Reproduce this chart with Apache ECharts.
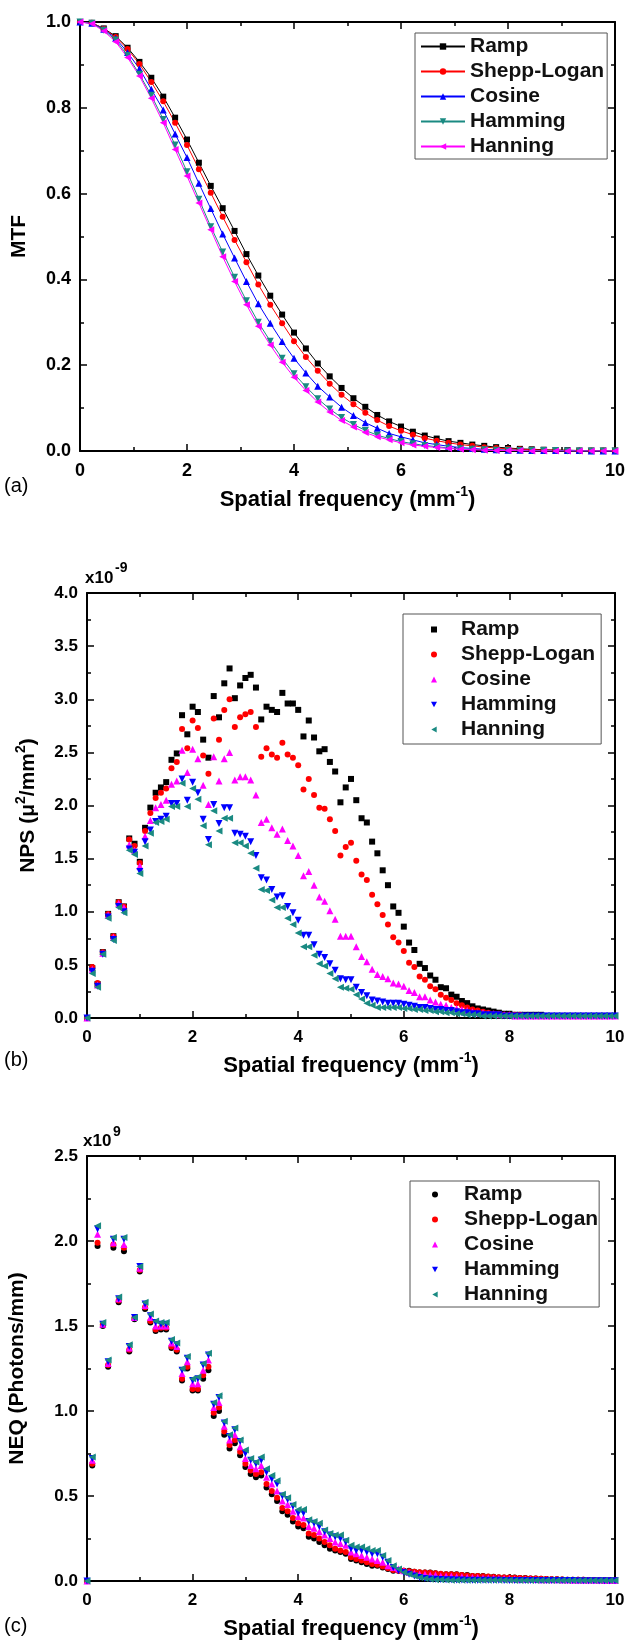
<!DOCTYPE html>
<html><head><meta charset="utf-8">
<script src="https://cdn.jsdelivr.net/npm/echarts@6/dist/echarts.min.js"></script>
<style>
html,body{margin:0;padding:0;background:#fff;width:627px;height:1647px;overflow:hidden}
.p{position:absolute;left:0;width:627px}
</style></head><body>
<div id="ca" class="p" style="top:0;height:530px"></div>
<div id="cb" class="p" style="top:530px;height:560px"></div>
<div id="cc" class="p" style="top:1090px;height:557px"></div>
<script>
// ---------- DATA ----------
const filterNames = ['Ramp', 'Shepp-Logan', 'Cosine', 'Hamming', 'Hanning'];
const xTicks = [0, 2, 4, 6, 8, 10];

// (a) MTF, sampled every 2/9 mm^-1
const freqA = [0, 0.222, 0.444, 0.667, 0.889, 1.111, 1.333, 1.556, 1.778, 2.000, 2.222, 2.444, 2.667, 2.889, 3.111, 3.333, 3.556, 3.778, 4.000, 4.222, 4.444, 4.667, 4.889, 5.111, 5.333, 5.556, 5.778, 6.000, 6.222, 6.444, 6.667, 6.889, 7.111, 7.333, 7.556, 7.778, 8.000, 8.222, 8.444, 8.667, 8.889, 9.111, 9.333, 9.556, 9.778, 10.000];
const mtfRamp = [1.000, 0.998, 0.985, 0.967, 0.940, 0.907, 0.870, 0.826, 0.777, 0.726, 0.672, 0.618, 0.566, 0.513, 0.459, 0.409, 0.362, 0.318, 0.276, 0.239, 0.204, 0.174, 0.147, 0.123, 0.103, 0.084, 0.069, 0.057, 0.045, 0.036, 0.029, 0.023, 0.019, 0.015, 0.012, 0.009, 0.007, 0.005, 0.004, 0.003, 0.002, 0.002, 0.001, 0.001, 0.001, 0.001];
const mtfShepp = [1.000, 0.998, 0.984, 0.965, 0.937, 0.902, 0.860, 0.815, 0.765, 0.713, 0.657, 0.602, 0.546, 0.492, 0.440, 0.388, 0.341, 0.298, 0.256, 0.219, 0.187, 0.157, 0.131, 0.109, 0.089, 0.072, 0.058, 0.047, 0.038, 0.030, 0.024, 0.019, 0.015, 0.012, 0.009, 0.007, 0.005, 0.004, 0.003, 0.002, 0.002, 0.001, 0.001, 0.001, 0.001, 0.001];
const mtfCosine = [1.000, 0.997, 0.983, 0.962, 0.929, 0.891, 0.843, 0.795, 0.739, 0.684, 0.624, 0.565, 0.506, 0.450, 0.395, 0.343, 0.298, 0.255, 0.216, 0.182, 0.151, 0.126, 0.102, 0.083, 0.066, 0.053, 0.041, 0.033, 0.026, 0.019, 0.015, 0.011, 0.008, 0.006, 0.004, 0.003, 0.002, 0.002, 0.001, 0.001, 0.001, 0.001, 0.001, 0.000, 0.000, 0.000];
const mtfHamming = [1.000, 0.997, 0.981, 0.958, 0.922, 0.878, 0.829, 0.773, 0.713, 0.651, 0.587, 0.523, 0.464, 0.405, 0.350, 0.300, 0.256, 0.216, 0.180, 0.150, 0.122, 0.098, 0.078, 0.062, 0.048, 0.037, 0.029, 0.022, 0.017, 0.013, 0.010, 0.007, 0.005, 0.004, 0.003, 0.002, 0.002, 0.001, 0.001, 0.001, 0.001, 0.000, 0.000, 0.000, 0.000, 0.000];
const mtfHanning = [1.000, 0.996, 0.979, 0.954, 0.917, 0.874, 0.822, 0.765, 0.703, 0.641, 0.578, 0.516, 0.453, 0.395, 0.341, 0.291, 0.247, 0.207, 0.172, 0.141, 0.114, 0.091, 0.071, 0.056, 0.043, 0.033, 0.026, 0.019, 0.014, 0.011, 0.008, 0.006, 0.004, 0.003, 0.002, 0.001, 0.001, 0.001, 0.000, 0.000, 0.000, 0.000, 0.000, 0.000, 0.000, 0.000];

// (b),(c) sampled every 0.1 mm^-1
const freqB = [0, 0.1, 0.2, 0.3, 0.4, 0.5, 0.6, 0.7, 0.8, 0.9, 1.0, 1.1, 1.2, 1.3, 1.4, 1.5, 1.6, 1.7, 1.8, 1.9, 2.0, 2.1, 2.2, 2.3, 2.4, 2.5, 2.6, 2.7, 2.8, 2.9, 3.0, 3.1, 3.2, 3.3, 3.4, 3.5, 3.6, 3.7, 3.8, 3.9, 4.0, 4.1, 4.2, 4.3, 4.4, 4.5, 4.6, 4.7, 4.8, 4.9, 5.0, 5.1, 5.2, 5.3, 5.4, 5.5, 5.6, 5.7, 5.8, 5.9, 6.0, 6.1, 6.2, 6.3, 6.4, 6.5, 6.6, 6.7, 6.8, 6.9, 7.0, 7.1, 7.2, 7.3, 7.4, 7.5, 7.6, 7.7, 7.8, 7.9, 8.0, 8.1, 8.2, 8.3, 8.4, 8.5, 8.6, 8.7, 8.8, 8.9, 9.0, 9.1, 9.2, 9.3, 9.4, 9.5, 9.6, 9.7, 9.8, 9.9, 10.0];

// NPS in units of 1e-9
const npsRamp = [0,
 0.47, 0.32, 0.62, 0.98, 0.77, 1.09, 1.05, 1.69, 1.64, 1.47,
 1.79, 1.98, 2.12, 2.17, 2.22, 2.43, 2.49, 2.85, 2.67, 2.93,
 2.88, 2.62, 2.45, 3.03, 2.83, 3.15, 3.29, 3.01, 3.13, 3.20,
 3.23, 3.11, 2.81, 2.93, 2.90, 2.88, 3.06, 2.96, 2.96, 2.90,
 2.65, 2.80, 2.64, 2.51, 2.53, 2.41, 2.32, 2.03, 2.17, 2.25,
 2.05, 1.88, 1.84, 1.66, 1.55, 1.39, 1.25, 1.05, 0.99, 0.86,
 0.71, 0.64, 0.51, 0.47, 0.40, 0.36, 0.29, 0.28, 0.22, 0.20,
 0.16, 0.14, 0.11, 0.09, 0.08, 0.07, 0.06, 0.05, 0.04, 0.04,
 0.03, 0.03, 0.03, 0.03, 0.03, 0.03, 0.02, 0.02, 0.02, 0.02,
 0.02, 0.02, 0.02, 0.02, 0.02, 0.02, 0.02, 0.02, 0.02, 0.02];
const npsShepp = [0,
 0.48, 0.33, 0.62, 0.98, 0.77, 1.09, 1.05, 1.68, 1.62, 1.46,
 1.76, 1.93, 2.07, 2.12, 2.16, 2.35, 2.41, 2.72, 2.54, 2.80,
 2.73, 2.47, 2.30, 2.82, 2.62, 2.90, 3.00, 2.74, 2.83, 2.86,
 2.88, 2.74, 2.46, 2.54, 2.48, 2.45, 2.59, 2.48, 2.45, 2.38,
 2.15, 2.25, 2.10, 1.98, 1.97, 1.87, 1.76, 1.53, 1.61, 1.65,
 1.48, 1.35, 1.30, 1.16, 1.07, 0.97, 0.88, 0.76, 0.71, 0.63,
 0.52, 0.48, 0.39, 0.36, 0.30, 0.27, 0.22, 0.19, 0.17, 0.14,
 0.12, 0.10, 0.08, 0.07, 0.06, 0.05, 0.04, 0.04, 0.03, 0.03,
 0.03, 0.03, 0.02, 0.02, 0.02, 0.02, 0.02, 0.02, 0.02, 0.02,
 0.02, 0.02, 0.02, 0.02, 0.02, 0.02, 0.02, 0.02, 0.02, 0.02];
const npsCosine = [0,
 0.46, 0.31, 0.61, 0.97, 0.76, 1.08, 1.04, 1.63, 1.58, 1.43,
 1.71, 1.86, 1.98, 2.01, 2.05, 2.20, 2.23, 2.52, 2.31, 2.53,
 2.44, 2.19, 2.01, 2.46, 2.23, 2.44, 2.50, 2.24, 2.27, 2.27,
 2.24, 2.10, 1.84, 1.87, 1.79, 1.73, 1.78, 1.67, 1.62, 1.53,
 1.34, 1.38, 1.25, 1.14, 1.10, 1.01, 0.93, 0.77, 0.77, 0.77,
 0.67, 0.58, 0.53, 0.46, 0.41, 0.39, 0.37, 0.33, 0.32, 0.30,
 0.26, 0.24, 0.20, 0.20, 0.17, 0.15, 0.13, 0.12, 0.10, 0.09,
 0.08, 0.07, 0.06, 0.05, 0.05, 0.04, 0.04, 0.03, 0.03, 0.03,
 0.02, 0.02, 0.02, 0.02, 0.02, 0.02, 0.02, 0.02, 0.02, 0.02,
 0.02, 0.02, 0.02, 0.02, 0.02, 0.02, 0.02, 0.02, 0.02, 0.02];
const npsHamming = [0,
 0.44, 0.30, 0.60, 0.95, 0.74, 1.05, 1.00, 1.59, 1.56, 1.38,
 1.66, 1.77, 1.85, 1.87, 1.90, 2.02, 2.02, 2.25, 2.05, 2.22,
 2.12, 1.87, 1.68, 2.01, 1.83, 1.98, 1.98, 1.74, 1.73, 1.71,
 1.66, 1.53, 1.32, 1.30, 1.21, 1.14, 1.15, 1.05, 0.99, 0.92,
 0.78, 0.78, 0.69, 0.60, 0.57, 0.51, 0.45, 0.37, 0.36, 0.36,
 0.29, 0.24, 0.21, 0.17, 0.16, 0.15, 0.14, 0.14, 0.14, 0.13,
 0.12, 0.11, 0.10, 0.10, 0.09, 0.08, 0.08, 0.07, 0.07, 0.06,
 0.05, 0.05, 0.04, 0.04, 0.03, 0.03, 0.03, 0.03, 0.02, 0.02,
 0.02, 0.02, 0.02, 0.02, 0.02, 0.02, 0.02, 0.02, 0.02, 0.02,
 0.02, 0.02, 0.02, 0.02, 0.02, 0.02, 0.02, 0.02, 0.02, 0.02];
const npsHanning = [0,
 0.42, 0.29, 0.60, 0.94, 0.73, 1.04, 0.99, 1.58, 1.54, 1.36,
 1.62, 1.74, 1.84, 1.85, 1.87, 1.99, 1.99, 2.21, 1.99, 2.16,
 2.06, 1.81, 1.63, 1.95, 1.76, 1.88, 1.88, 1.65, 1.65, 1.62,
 1.55, 1.41, 1.21, 1.20, 1.11, 1.04, 1.04, 0.94, 0.88, 0.80,
 0.67, 0.67, 0.59, 0.51, 0.49, 0.42, 0.37, 0.29, 0.28, 0.27,
 0.22, 0.18, 0.14, 0.12, 0.10, 0.10, 0.10, 0.10, 0.10, 0.09,
 0.09, 0.08, 0.08, 0.07, 0.07, 0.06, 0.06, 0.05, 0.05, 0.04,
 0.04, 0.03, 0.03, 0.03, 0.02, 0.02, 0.02, 0.02, 0.02, 0.02,
 0.02, 0.02, 0.02, 0.02, 0.02, 0.02, 0.02, 0.02, 0.02, 0.02,
 0.02, 0.02, 0.02, 0.02, 0.02, 0.02, 0.02, 0.02, 0.02, 0.02];

// NEQ in units of 1e9 photons/mm
const neqRamp = [0,
 0.68, 1.97, 1.50, 1.26, 1.96, 1.64, 1.94, 1.35, 1.54, 1.82,
 1.60, 1.52, 1.47, 1.48, 1.48, 1.37, 1.35, 1.18, 1.25, 1.12,
 1.12, 1.19, 1.24, 0.97, 1.00, 0.86, 0.78, 0.81, 0.74, 0.67,
 0.63, 0.61, 0.62, 0.55, 0.51, 0.47, 0.41, 0.39, 0.35, 0.32,
 0.31, 0.26, 0.25, 0.23, 0.21, 0.19, 0.18, 0.17, 0.16, 0.13,
 0.12, 0.11, 0.10, 0.09, 0.09, 0.08, 0.07, 0.06, 0.06, 0.06,
 0.06, 0.055, 0.05, 0.05, 0.05, 0.045, 0.04, 0.04, 0.04, 0.04,
 0.035, 0.035, 0.03, 0.03, 0.03, 0.025, 0.025, 0.02, 0.02, 0.02,
 0.02, 0.018, 0.017, 0.015, 0.014, 0.013, 0.012, 0.011, 0.01, 0.009,
 0.008, 0.008, 0.007, 0.007, 0.006, 0.006, 0.005, 0.005, 0.005, 0.004];
const neqShepp = [0,
 0.69, 1.99, 1.51, 1.27, 1.98, 1.65, 1.96, 1.36, 1.55, 1.83,
 1.61, 1.53, 1.48, 1.49, 1.49, 1.38, 1.36, 1.19, 1.26, 1.13,
 1.13, 1.21, 1.26, 0.99, 1.02, 0.88, 0.80, 0.83, 0.76, 0.69,
 0.65, 0.63, 0.64, 0.57, 0.53, 0.49, 0.43, 0.41, 0.37, 0.34,
 0.33, 0.28, 0.27, 0.25, 0.23, 0.21, 0.19, 0.18, 0.17, 0.14,
 0.13, 0.12, 0.11, 0.10, 0.095, 0.085, 0.075, 0.065, 0.06, 0.06,
 0.058, 0.055, 0.052, 0.05, 0.048, 0.045, 0.042, 0.04, 0.04, 0.038,
 0.035, 0.033, 0.03, 0.03, 0.028, 0.026, 0.024, 0.022, 0.02, 0.02,
 0.019, 0.018, 0.016, 0.015, 0.014, 0.013, 0.012, 0.011, 0.01, 0.009,
 0.008, 0.008, 0.007, 0.007, 0.006, 0.006, 0.005, 0.005, 0.005, 0.004];
const neqCosine = [0,
 0.71, 2.04, 1.51, 1.28, 1.99, 1.66, 1.98, 1.37, 1.55, 1.84,
 1.62, 1.55, 1.50, 1.50, 1.50, 1.40, 1.38, 1.22, 1.29, 1.16,
 1.16, 1.24, 1.30, 1.02, 1.05, 0.91, 0.83, 0.86, 0.79, 0.72,
 0.68, 0.66, 0.68, 0.61, 0.57, 0.53, 0.47, 0.45, 0.41, 0.38,
 0.37, 0.32, 0.31, 0.29, 0.27, 0.25, 0.23, 0.22, 0.21, 0.17,
 0.16, 0.15, 0.14, 0.13, 0.12, 0.11, 0.09, 0.08, 0.07, 0.06,
 0.05, 0.045, 0.04, 0.04, 0.035, 0.035, 0.03, 0.03, 0.03, 0.025,
 0.025, 0.022, 0.02, 0.02, 0.018, 0.017, 0.016, 0.015, 0.014, 0.013,
 0.012, 0.011, 0.01, 0.01, 0.009, 0.008, 0.008, 0.007, 0.007, 0.006,
 0.006, 0.005, 0.005, 0.005, 0.004, 0.004, 0.004, 0.003, 0.003, 0.003];
const neqHamming = [0,
 0.72, 2.07, 1.51, 1.29, 2.01, 1.66, 2.01, 1.38, 1.55, 1.85,
 1.63, 1.56, 1.52, 1.51, 1.51, 1.41, 1.39, 1.24, 1.31, 1.18,
 1.19, 1.27, 1.33, 1.04, 1.08, 0.93, 0.85, 0.89, 0.82, 0.75,
 0.71, 0.69, 0.71, 0.64, 0.60, 0.57, 0.50, 0.48, 0.44, 0.40,
 0.40, 0.35, 0.34, 0.32, 0.29, 0.27, 0.26, 0.25, 0.23, 0.19,
 0.18, 0.18, 0.17, 0.16, 0.16, 0.14, 0.11, 0.08, 0.06, 0.05,
 0.04, 0.03, 0.02, 0.015, 0.012, 0.01, 0.009, 0.008, 0.007, 0.006,
 0.006, 0.005, 0.005, 0.005, 0.004, 0.004, 0.004, 0.004, 0.003, 0.003,
 0.003, 0.003, 0.003, 0.003, 0.003, 0.003, 0.003, 0.003, 0.003, 0.003,
 0.003, 0.003, 0.002, 0.002, 0.002, 0.002, 0.002, 0.002, 0.002, 0.002];
const neqHanning = [0,
 0.73, 2.09, 1.52, 1.30, 2.02, 1.67, 2.02, 1.39, 1.55, 1.85,
 1.64, 1.57, 1.53, 1.52, 1.52, 1.42, 1.40, 1.25, 1.32, 1.19,
 1.20, 1.28, 1.34, 1.05, 1.09, 0.94, 0.86, 0.90, 0.83, 0.77,
 0.72, 0.70, 0.73, 0.66, 0.62, 0.59, 0.51, 0.49, 0.45, 0.42,
 0.42, 0.36, 0.35, 0.34, 0.30, 0.28, 0.27, 0.27, 0.24, 0.21,
 0.20, 0.20, 0.19, 0.18, 0.18, 0.15, 0.12, 0.09, 0.07, 0.05,
 0.04, 0.03, 0.02, 0.015, 0.01, 0.008, 0.007, 0.006, 0.005, 0.005,
 0.004, 0.004, 0.004, 0.004, 0.004, 0.004, 0.004, 0.004, 0.004, 0.004,
 0.003, 0.003, 0.003, 0.003, 0.003, 0.003, 0.003, 0.003, 0.003, 0.003,
 0.003, 0.003, 0.003, 0.003, 0.003, 0.003, 0.003, 0.003, 0.003, 0.003];

// ---------- STYLE ----------
const FONT = 'Arial, "Liberation Sans", Helvetica, sans-serif';
const C = { ramp: '#000000', shepp: '#ff0000', blue: '#0000ff', teal: '#1a8a82', mag: '#ff00ff' };
const xName = 'Spatial frequency (mm{s|-1})';
const supRich = { s: { fontSize: 14, fontWeight: 'bold', fontFamily: FONT, color: '#000', lineHeight: 14, verticalAlign: 'top' } };
const ICON_DOWN = 'path://M0,0L10,0L5,9Z';
const ICON_LEFT = 'path://M9,0L9,10L0,5Z';

function zip(xs, ys) { return xs.map((x, i) => [x, ys[i]]); }

function axesFor(ymax, yint, yname, ynameGap, ynameRich, labelSize) {
  const line = { show: true, onZero: false, lineStyle: { color: '#000', width: 2 } };
  const tick = { show: true, inside: true, length: 7, lineStyle: { color: '#000', width: 1.5 } };
  const minor = { show: true, splitNumber: 2, length: 4, lineStyle: { color: '#000', width: 1.5 } };
  const lab = { color: '#000', fontSize: labelSize, fontWeight: 'bold', fontFamily: FONT, showMinLabel: true, showMaxLabel: true, hideOverlap: false };
  return {
    xAxis: [
      { type: 'value', min: xTicks[0], max: xTicks[xTicks.length - 1], interval: 2, position: 'bottom',
        axisLine: line, axisTick: tick, minorTick: minor, splitLine: { show: false }, minorSplitLine: { show: false },
        axisLabel: Object.assign({ margin: 11 }, lab),
        name: xName, nameLocation: 'middle', nameGap: 31,
        nameTextStyle: { fontSize: 22, fontWeight: 'bold', fontFamily: FONT, color: '#000', lineHeight: 30, rich: supRich } },
      { type: 'value', min: 0, max: 10, interval: 2, position: 'top',
        axisLine: line, axisTick: tick, minorTick: minor, splitLine: { show: false }, axisLabel: { show: false } }
    ],
    yAxis: [
      { type: 'value', min: 0, max: ymax, interval: yint, position: 'left',
        axisLine: line, axisTick: tick, minorTick: minor, splitLine: { show: false }, minorSplitLine: { show: false },
        axisLabel: Object.assign({ margin: 9, formatter: v => v.toFixed(1) }, lab),
        name: yname, nameLocation: 'middle', nameGap: ynameGap, nameRotate: 90,
        nameTextStyle: { fontSize: 21, fontWeight: 'bold', fontFamily: FONT, color: '#000', lineHeight: 28, rich: ynameRich } },
      { type: 'value', min: 0, max: ymax, interval: yint, position: 'right',
        axisLine: line, axisTick: tick, minorTick: minor, splitLine: { show: false }, axisLabel: { show: false } }
    ]
  };
}

function legendCfg(left, top, pad, iconW, iconH, textPadLeft, data) {
  return {
    orient: 'vertical', left: left, top: top, padding: pad,
    itemWidth: iconW, itemHeight: iconH, itemGap: 4, symbolKeepAspect: true,
    borderColor: '#555', borderWidth: 1, backgroundColor: '#fff', borderRadius: 0,
    textStyle: { fontSize: 21, fontWeight: 'bold', fontFamily: FONT, color: '#111', lineHeight: 21, padding: [0, 0, 0, textPadLeft] },
    data: data, selectedMode: false
  };
}
const scatterLegendData = [
  { name: filterNames[0] }, { name: filterNames[1] }, { name: filterNames[2] },
  { name: filterNames[3], icon: ICON_DOWN }, { name: filterNames[4], icon: ICON_LEFT }
];

function label(txt, x, y, size, weight) {
  return { type: 'text', x: x, y: y, style: { text: txt, fontSize: size, fontWeight: weight || 'normal', fontFamily: FONT, fill: '#000', verticalAlign: 'middle' } };
}

// ---------- (a) MTF ----------
const chA = echarts.init(document.getElementById('ca'), null, { renderer: 'canvas' });
const axA = axesFor(1.0, 0.2, 'MTF', 47, {}, 18);
const lineS = (name, ys, color, sym, rot, size) => ({
  name: name, type: 'line', data: zip(freqA, ys), xAxisIndex: 0, yAxisIndex: 0,
  symbol: sym, symbolRotate: rot, symbolSize: size, showSymbol: true, showAllSymbol: true,
  lineStyle: { color: color, width: 1 }, itemStyle: { color: color }, z: 3, animation: false
});
chA.setOption({
  animation: false,
  grid: { left: 80, top: 22, width: 535, height: 429, containLabel: false, outerBoundsMode: 'none' },
  xAxis: axA.xAxis, yAxis: axA.yAxis,
  legend: legendCfg(415, 33, [3, 3, 2, 5], 44, 8, 0, filterNames),
  series: [
    lineS('Ramp', mtfRamp, C.ramp, 'rect', 0, 6),
    lineS('Shepp-Logan', mtfShepp, C.shepp, 'circle', 0, 6),
    lineS('Cosine', mtfCosine, C.blue, 'triangle', 0, 7),
    lineS('Hamming', mtfHamming, C.teal, 'triangle', 180, 7),
    lineS('Hanning', mtfHanning, C.mag, 'triangle', 90, 7)
  ],
  graphic: [label('(a)', 4, 486, 20)]
});

// ---------- (b) NPS ----------
const chB = echarts.init(document.getElementById('cb'), null, { renderer: 'canvas' });
const axB = axesFor(4.0, 0.5, 'NPS (μ{s|2}/mm{s|2})', 45, supRich, 17);
const scat = (name, xs, ys, color, sym, rot, size) => ({
  name: name, type: 'scatter', data: zip(xs, ys), xAxisIndex: 0, yAxisIndex: 0,
  symbol: sym, symbolRotate: rot, symbolSize: size, itemStyle: { color: color, opacity: 1 }, z: 3, animation: false
});
chB.setOption({
  animation: false,
  grid: { left: 87, top: 63, width: 528, height: 425, containLabel: false, outerBoundsMode: 'none' },
  xAxis: axB.xAxis, yAxis: axB.yAxis,
  legend: legendCfg(403, 84, [5, 6, 4, 28], 6, 6, 19, scatterLegendData),
  series: [
    scat('Ramp', freqB, npsRamp, C.ramp, 'rect', 0, 6),
    scat('Shepp-Logan', freqB, npsShepp, C.shepp, 'circle', 0, 6),
    scat('Cosine', freqB, npsCosine, C.mag, 'triangle', 0, 7),
    scat('Hamming', freqB, npsHamming, C.blue, 'triangle', 180, 7),
    scat('Hanning', freqB, npsHanning, C.teal, 'triangle', 90, 7)
  ],
  graphic: [
    label('x10', 85, 48, 17, 'bold'),
    label('-9', 115, 38, 14, 'bold'),
    label('(b)', 4, 530, 20)
  ]
});

// ---------- (c) NEQ ----------
const chC = echarts.init(document.getElementById('cc'), null, { renderer: 'canvas' });
const axC = axesFor(2.5, 0.5, 'NEQ (Photons/mm)', 56, {}, 17);
chC.setOption({
  animation: false,
  grid: { left: 87, top: 66, width: 528, height: 425, containLabel: false, outerBoundsMode: 'none' },
  xAxis: axC.xAxis, yAxis: axC.yAxis,
  legend: legendCfg(410, 91, [3, 1, 2, 22], 6, 6, 21, scatterLegendData),
  series: [
    scat('Ramp', freqB, neqRamp, C.ramp, 'circle', 0, 6),
    scat('Shepp-Logan', freqB, neqShepp, C.shepp, 'circle', 0, 6),
    scat('Cosine', freqB, neqCosine, C.mag, 'triangle', 0, 7),
    scat('Hamming', freqB, neqHamming, C.blue, 'triangle', 180, 7),
    scat('Hanning', freqB, neqHanning, C.teal, 'triangle', 90, 7)
  ],
  graphic: [
    label('x10', 83, 51, 17, 'bold'),
    label('9', 113, 42, 14, 'bold'),
    label('(c)', 4, 536, 20)
  ]
});
</script></body></html>
